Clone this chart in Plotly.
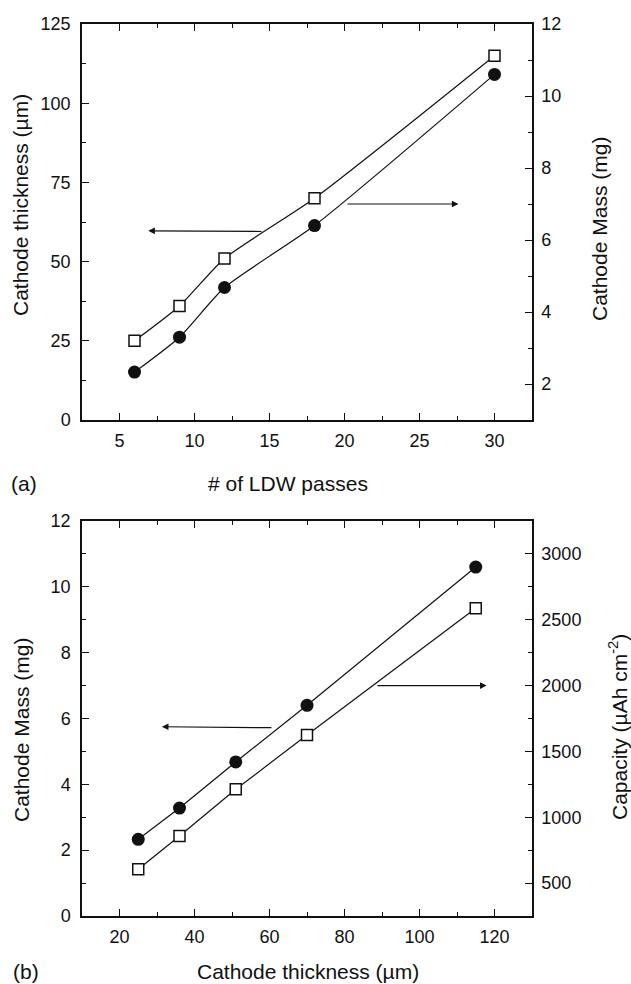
import plotly.graph_objects as go

# ---- data ----
passes = [6, 9, 12, 18, 30]
thickness_um = [25, 36, 51, 70, 115]
mass_mg = [2.33, 3.3, 4.68, 6.4, 10.6]

thick_b = [25, 36, 51, 70, 115]
mass_b = [2.33, 3.28, 4.68, 6.4, 10.6]
capacity = [605, 858, 1212, 1625, 2587]

FONT = "Liberation Sans, Arial, sans-serif"
TICK = 18
TITLE = 21
BLACK = "#111111"

fig = go.Figure()

sq = dict(symbol="square", size=11, color="white", line=dict(color=BLACK, width=1.5))
ci = dict(symbol="circle", size=13, color=BLACK, line=dict(color=BLACK, width=0))
ln = dict(color=BLACK, width=1.2)

# top panel
fig.add_trace(go.Scatter(x=passes, y=thickness_um, mode="lines+markers", marker=sq,
                         line=dict(**ln, shape="spline", smoothing=0.6), xaxis="x", yaxis="y"))
fig.add_trace(go.Scatter(x=passes, y=mass_mg, mode="lines+markers", marker=ci,
                         line=dict(**ln, shape="spline", smoothing=0.6), xaxis="x", yaxis="y2"))
# bottom panel
fig.add_trace(go.Scatter(x=thick_b, y=mass_b, mode="lines+markers", marker=ci,
                         line=ln, xaxis="x2", yaxis="y3"))
fig.add_trace(go.Scatter(x=thick_b, y=capacity, mode="lines+markers", marker=sq,
                         line=ln, xaxis="x2", yaxis="y4"))

W, H = 631, 984
xd = [82 / W, 532 / W]
top_d = [1 - 420 / H, 1 - 24 / H]
bot_d = [1 - 916 / H, 1 - 521 / H]

def ax(rng, dtick, minor, domain=None, **kw):
    d = dict(range=rng, dtick=dtick, tick0=0, ticks="inside", ticklen=7, tickwidth=1.3,
             tickcolor=BLACK, showline=True, linecolor=BLACK, linewidth=1.5,
             showgrid=False, zeroline=False, automargin=False,
             tickfont=dict(family=FONT, size=TICK, color=BLACK),
             minor=dict(ticks="inside", ticklen=4, dtick=minor, tick0=0, tickcolor=BLACK, tickwidth=1.3,
                        showgrid=False))
    if domain is not None:
        d["domain"] = domain
    d.update(kw)
    return d

fig.update_layout(
    width=W, height=H, margin=dict(l=0, r=0, t=0, b=0),
    paper_bgcolor="white", plot_bgcolor="white", showlegend=False,
    font=dict(family=FONT, color=BLACK),
    xaxis=ax([2.5, 32.5], 5, 2.5, xd, anchor="y", mirror="ticks", ticklabelstandoff=4),
    yaxis=ax([0, 125], 25, 12.5, top_d, anchor="x", ticklabelstandoff=6),
    yaxis2=ax([1, 12], 2, 1, None, overlaying="y", side="right", anchor="x", ticklabelstandoff=4),
    xaxis2=ax([10, 130], 20, 10, xd, anchor="y3", mirror="ticks", ticklabelstandoff=4),
    yaxis3=ax([0, 12], 2, 1, bot_d, anchor="x2", ticklabelstandoff=6),
    yaxis4=ax([250, 3250], 500, 250, None, overlaying="y3", side="right", anchor="x2", ticklabelstandoff=4),
)

def txt(s, x, y, angle=0):
    return dict(text=s, x=x / W, y=1 - y / H, xref="paper", yref="paper", showarrow=False,
                textangle=angle, xanchor="center", yanchor="middle",
                font=dict(family=FONT, size=TITLE, color=BLACK))

def arrow(x, y, axx, ayy, xr, yr):
    return dict(x=x, y=y, ax=axx, ay=ayy, xref=xr, yref=yr, axref=xr, ayref=yr,
                showarrow=True, arrowhead=2, arrowsize=1.1, arrowwidth=1.2, arrowcolor=BLACK, text="")

fig.update_layout(annotations=[
    txt("Cathode thickness (µm)", 20, 205, -90),
    txt("Cathode Mass (mg)", 600, 229, -90),
    txt("# of LDW passes", 288, 483),
    txt("(a)", 24, 483),
    txt("Cathode Mass (mg)", 21, 730, -90),
    txt("Capacity (µAh cm<sup>-2</sup>)", 618, 727, -90),
    txt("Cathode thickness (µm)", 308, 971),
    txt("(b)", 26, 971),
    arrow(6.92, 59.7, 14.57, 59.5, "x", "y"),
    arrow(27.6, 7.0, 20.1, 7.0, "x", "y2"),
    arrow(31.3, 5.75, 60.9, 5.72, "x2", "y3"),
    arrow(117.9, 2000, 88.4, 2000, "x2", "y4"),
])

fig.write_html("out.html", config={"displayModeBar": False},
               post_script="document.body.style.margin='0';document.body.style.overflow='hidden';")
